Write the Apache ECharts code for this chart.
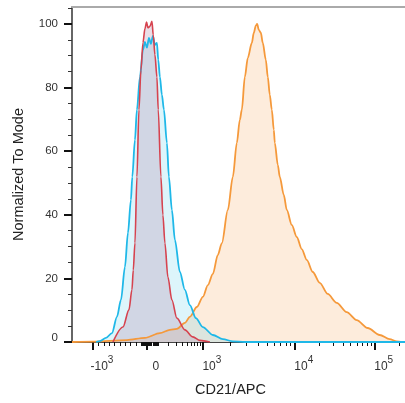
<!DOCTYPE html>
<html>
<head>
<meta charset="utf-8">
<script src="https://cdn.jsdelivr.net/npm/echarts@6/dist/echarts.min.js"></script>
<style>
  html, body { margin: 0; padding: 0; background: #fff; }
  .myEcharts { width: 405px; height: 403px; }
</style>
</head>
<body>
<div id="myChart" class="myEcharts"></div>
<script>
// histograms: [display channel (0-1000), % of mode]
var orangeData = [
  [0, 0], [63, 0.1], [165, 0.6], [219, 1.3], [264, 2.8], [294, 3.8], [315, 4.1],
  [339, 6.0], [354, 7.9], [375, 11.0], [393, 14.2], [408, 17.9], [423, 21.4],
  [438, 27.4], [450, 31.1], [468, 41.5], [483, 51.9], [495, 62.6], [504, 69.8],
  [510, 73.0], [519, 83.3], [528, 89.3], [540, 94.0], [546, 97.2], [552, 99.4],
  [556, 100], [561, 98.1], [567, 97.2], [573, 94.0], [582, 88.7], [588, 83.3],
  [594, 77.7], [600, 73.0], [606, 66.7], [609, 62.6], [618, 55.7], [624, 51.9],
  [636, 46.2], [645, 41.5], [660, 36.8], [675, 33.0], [690, 29.2], [705, 25.8],
  [723, 22.0], [744, 18.6], [768, 15.1], [795, 12.3], [825, 9.4], [855, 6.9],
  [888, 4.4], [924, 2.2], [954, 0.9], [975, 0.2], [990, 0], [1000, 0]
];
var blueData = [
  [72, 0], [84, 0.3], [102, 1.3], [120, 2.8], [135, 7.9], [147, 13.2], [159, 23.6],
  [168, 34.3], [177, 44.7], [181, 51.9], [189, 63.5], [195, 73.0], [204, 83.3],
  [213, 91.8], [219, 94.3], [225, 92.5], [231, 95.6], [237, 93.7], [243, 96.2],
  [249, 93.4], [255, 94.0], [259, 88.7], [264, 83.3], [270, 77.7], [276, 73.0],
  [285, 62.6], [291, 51.9], [300, 41.5], [309, 32.1], [324, 22.0], [339, 16.4],
  [354, 11.6], [372, 7.5], [393, 4.7], [423, 2.2], [453, 0.9], [483, 0.2],
  [519, 0], [1000, 0]
];
var redData = [
  [123, 0], [153, 4.7], [171, 10.1], [180, 16.4], [184, 22.6], [189, 31.1],
  [195, 51.9], [201, 73.0], [207, 85.5], [213, 94.0], [219, 98.5], [224, 100.6],
  [228, 98.8], [234, 99.2], [240, 100.8], [244, 96.5], [249, 90.3], [255, 83.3],
  [259, 73.0], [267, 51.9], [273, 39.9], [279, 31.1], [288, 20.4], [300, 13.2],
  [315, 7.5], [339, 3.8], [363, 1.6], [384, 0.5], [414, 0]
];

// x ticks in fluorescence units
var majorTicks = [-1000, 0, 1000, 10000, 100000];
var majorBase = ['-10', '0', '10', '10', '10'];
var majorExp = ['3', '', '3', '4', '5'];
var minorTicks = [
  -900, -800, -700, -600, -500, -400, -300, -200, -100,
  -90, -80, -70, -60, -50, -40, -30, -20, -10,
  10, 20, 30, 40, 50, 60, 70, 80, 90,
  100, 200, 300, 400, 500, 600, 700, 800, 900,
  2000, 3000, 4000, 5000, 6000, 7000, 8000, 9000,
  20000, 30000, 40000, 50000, 60000, 70000, 80000, 90000,
  200000
];
// y ticks
var yMajor = [0, 20, 40, 60, 80, 100];
var yMinor = [5, 10, 15, 25, 30, 35, 45, 50, 55, 65, 70, 75, 85, 90, 95, 105];

// biex display: fluorescence value -> channel
var ZERO = 225;
function toChannel(v) {
  if (v < 0) return ZERO + v * (ZERO - 63) / 1000;
  if (v < 1000) return ZERO + (393 - ZERO) * Math.asinh(v / 200) / Math.asinh(5);
  var d = Math.log10(v);
  if (d <= 4) return 393 + (d - 3) * 276;
  return 669 + (d - 4) * 240;
}

var majorPos = majorTicks.map(toChannel);
var minorPos = minorTicks.map(toChannel);
var labelMap = {};
majorPos.forEach(function (p, i) {
  labelMap[Math.round(p)] = '{b|' + majorBase[i] + '}' + (majorExp[i] ? '{s|' + majorExp[i] + '}' : '');
});

var FONT = '"Liberation Sans", Arial, sans-serif';

var myChart = echarts.init(document.getElementById('myChart'));
myChart.setOption({
  animation: false,
  grid: { left: 72, right: 0, top: 7, bottom: 61 },
  xAxis: [{
    type: 'value', min: 0, max: 1000, position: 'bottom',
    name: 'CD21/APC', nameLocation: 'middle', nameGap: 40,
    nameTextStyle: { fontSize: 14.5, color: '#222', fontFamily: FONT, padding: [0, 16, 0, 0] },
    axisLine: { show: true, lineStyle: { color: '#444', width: 1 } },
    axisTick: { show: true, customValues: majorPos, length: 8, lineStyle: { color: '#111', width: 2 } },
    axisLabel: {
      customValues: majorPos, margin: 13, color: '#333', fontFamily: FONT,
      formatter: function (val) { return labelMap[Math.round(val)] || ''; },
      rich: {
        b: { fontSize: 12, lineHeight: 14, padding: [6, 0, 0, 0], verticalAlign: 'top', color: '#333', fontFamily: FONT },
        s: { fontSize: 10, lineHeight: 10, verticalAlign: 'top', color: '#333', fontFamily: FONT }
      },
      padding: [0, 0, 0, 18]
    },
    splitLine: { show: false }
  }, {
    type: 'value', min: 0, max: 1000, position: 'bottom',
    axisLine: { show: false },
    axisTick: { show: true, customValues: minorPos, length: 4, lineStyle: { color: '#111', width: 1 } },
    axisLabel: { show: false },
    splitLine: { show: false }
  }, {
    type: 'value', min: 0, max: 1000, position: 'top',
    axisLine: { show: true, lineStyle: { color: '#aaa', width: 2 } },
    axisTick: { show: false },
    axisLabel: { show: false },
    splitLine: { show: false }
  }],
  yAxis: [{
    type: 'value', min: 0, max: 105.3, position: 'left',
    name: 'Normalized To Mode', nameLocation: 'middle', nameGap: 46,
    nameTextStyle: { fontSize: 14.5, color: '#222', fontFamily: FONT },
    axisLine: { show: true, lineStyle: { color: '#333', width: 1.5 } },
    axisTick: { show: true, customValues: yMajor, length: 8, lineStyle: { color: '#111', width: 2 } },
    axisLabel: {
      customValues: yMajor, margin: 14, fontSize: 11.5, color: '#333', fontFamily: FONT,
      formatter: function (val) { return val === 0 ? '{z|0}' : String(val); },
      rich: { z: { fontSize: 11.5, color: '#333', fontFamily: FONT, padding: [0, 0, 8, 0] } }
    },
    splitLine: { show: false }
  }, {
    type: 'value', min: 0, max: 105.3, position: 'left', offset: 0,
    axisLine: { show: false },
    axisTick: { show: true, customValues: yMinor, length: 4, lineStyle: { color: '#333', width: 1 } },
    axisLabel: { show: false },
    splitLine: { show: false }
  }],
  series: [{
    name: 'CD21', type: 'line', data: orangeData, showSymbol: false,
    smooth: 0.3, smoothMonotone: 'x',
    lineStyle: { color: '#f5993b', width: 1.8 },
    areaStyle: { color: 'rgba(247,163,92,0.3)' }
  }, {
    name: 'isotype', type: 'line', data: blueData, showSymbol: false,
    smooth: 0.3, smoothMonotone: 'x',
    lineStyle: { color: '#1fb8e8', width: 1.8 },
    areaStyle: { color: 'rgba(30,190,230,0.22)' }
  }, {
    name: 'unstained', type: 'line', data: redData, showSymbol: false,
    smooth: 0.3, smoothMonotone: 'x',
    lineStyle: { color: '#d6434f', width: 1.6 },
    areaStyle: { color: 'rgba(180,138,168,0.4)' }
  }]
});
</script>
</body>
</html>
